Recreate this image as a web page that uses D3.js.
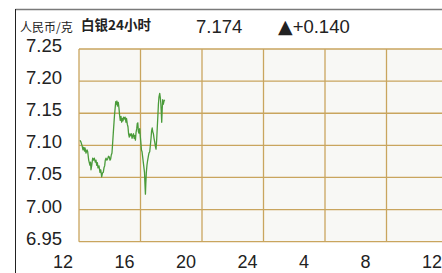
<!DOCTYPE html>
<html>
<head>
<meta charset="utf-8">
<script src="https://cdn.jsdelivr.net/npm/d3@7"></script>
<style>
	html, body { margin: 0; padding: 0; background: #fff; }
	svg { display: block; font-family: 'Liberation Sans', Arial, sans-serif; }
</style>
</head>
<body>
<div id="chart"></div>
<script>
'use strict'

// hours since 12:00 and price (RMB per gram)
const hours = [0.065, 0.13, 0.195, 0.26, 0.31, 0.36, 0.39, 0.455, 0.52, 0.566, 0.63, 0.67, 0.715, 0.75, 0.78, 0.83, 0.89, 0.94, 0.995, 1.06, 1.105, 1.15, 1.195, 1.235, 1.30, 1.365, 1.415, 1.475, 1.53, 1.58, 1.625, 1.67, 1.71, 1.755, 1.81, 1.865, 1.92, 1.97, 2.015, 2.06, 2.10, 2.145, 2.19, 2.23, 2.275, 2.31, 2.34, 2.39, 2.43, 2.47, 2.50, 2.555, 2.60, 2.64, 2.685, 2.73, 2.775, 2.82, 2.86, 2.905, 2.96, 3.00, 3.055, 3.09, 3.14, 3.185, 3.225, 3.27, 3.315, 3.36, 3.41, 3.45, 3.50, 3.545, 3.59, 3.63, 3.67, 3.71, 3.755, 3.79, 3.825, 3.865, 3.90, 3.95, 3.99, 4.02, 4.06, 4.10, 4.14, 4.18, 4.22, 4.26, 4.29, 4.32, 4.345, 4.38, 4.42, 4.46, 4.51, 4.55, 4.60, 4.645, 4.685, 4.72, 4.76, 4.80, 4.84, 4.88, 4.925, 4.965, 5.01, 5.05, 5.09, 5.13, 5.165, 5.20, 5.25, 5.29, 5.32, 5.35, 5.38, 5.41, 5.445, 5.48, 5.53, 5.57]
const prices = [7.108, 7.105, 7.100, 7.093, 7.097, 7.091, 7.096, 7.088, 7.093, 7.090, 7.077, 7.073, 7.069, 7.074, 7.062, 7.069, 7.080, 7.077, 7.080, 7.074, 7.077, 7.069, 7.073, 7.065, 7.068, 7.058, 7.062, 7.051, 7.057, 7.058, 7.065, 7.068, 7.077, 7.080, 7.077, 7.079, 7.083, 7.082, 7.077, 7.079, 7.085, 7.088, 7.104, 7.119, 7.135, 7.147, 7.155, 7.168, 7.164, 7.169, 7.161, 7.167, 7.158, 7.147, 7.139, 7.145, 7.136, 7.142, 7.138, 7.144, 7.141, 7.144, 7.136, 7.142, 7.133, 7.129, 7.118, 7.113, 7.118, 7.115, 7.118, 7.111, 7.115, 7.118, 7.111, 7.115, 7.108, 7.120, 7.126, 7.134, 7.135, 7.121, 7.119, 7.126, 7.113, 7.105, 7.093, 7.090, 7.082, 7.074, 7.066, 7.058, 7.040, 7.024, 7.040, 7.058, 7.069, 7.076, 7.083, 7.088, 7.090, 7.101, 7.111, 7.122, 7.127, 7.121, 7.118, 7.111, 7.105, 7.099, 7.094, 7.108, 7.127, 7.146, 7.164, 7.175, 7.181, 7.174, 7.166, 7.152, 7.136, 7.155, 7.171, 7.164, 7.169, 7.171]

const xTicks = [0, 4, 8, 12, 16, 20, 24]
const xTickLabels = ['12', '16', '20', '24', '4', '8', '12']
const yTicks = [6.95, 7.00, 7.05, 7.10, 7.15, 7.20, 7.25]

const unitLabel = '人民币/克'
const title = '白银24小时'
const lastPrice = '7.174'
const changeMark = '▲'
const change = '+0.140'

const width = 442
const height = 273
const plot = {left: 79, top: 49, right: 448, bottom: 241.7}

const svg = d3.select('#chart').append('svg')
	.attr('width', width)
	.attr('height', height)

const x = d3.scaleLinear()
	.domain([0, 24])
	.range([plot.left, plot.right])

const y = d3.scaleLinear()
	.domain([6.95, 7.25])
	.range([plot.bottom, plot.top])

// frame lines
svg.append('line')
	.attr('x1', 15.5).attr('x2', width)
	.attr('y1', 9.5).attr('y2', 9.5)
	.attr('stroke', '#7a7a7a')
	.attr('stroke-width', 1.5)

svg.append('line')
	.attr('x1', 15.5).attr('x2', 15.5)
	.attr('y1', 9).attr('y2', height)
	.attr('stroke', '#222')
	.attr('stroke-width', 1)

// plot background
svg.append('rect')
	.attr('x', plot.left)
	.attr('y', plot.top)
	.attr('width', plot.right - plot.left)
	.attr('height', plot.bottom - plot.top)
	.attr('fill', '#f8f8f5')

const grid = svg.append('g').attr('class', 'grid')

grid.selectAll('.vline')
	.data(xTicks)
	.enter()
	.append('line')
	.attr('class', 'vline')
	.attr('x1', (d) => x(d))
	.attr('x2', (d) => x(d))
	.attr('y1', plot.top)
	.attr('y2', plot.bottom)
	.attr('stroke', '#c9a55e')
	.attr('stroke-width', 1.3)

grid.selectAll('.hline')
	.data(yTicks)
	.enter()
	.append('line')
	.attr('class', 'hline')
	.attr('x1', plot.left)
	.attr('x2', plot.right)
	.attr('y1', (d) => y(d))
	.attr('y2', (d) => y(d))
	.attr('stroke', '#c9a55e')
	.attr('stroke-width', 1.3)

// y labels sit a little above their gridline
svg.append('g')
	.selectAll('text')
	.data(yTicks)
	.enter()
	.append('text')
	.attr('x', 62)
	.attr('y', (d) => y(d) + 3)
	.attr('text-anchor', 'end')
	.attr('font-size', 18.5)
	.attr('fill', '#222')
	.text((d) => d3.format('.2f')(d))

// x labels sit left of their gridline
svg.append('g')
	.selectAll('text')
	.data(xTicks)
	.enter()
	.append('text')
	.attr('x', (d) => x(d) - 26)
	.attr('y', 268)
	.attr('font-size', 18)
	.attr('fill', '#222')
	.text((d, i) => xTickLabels[i])

const points = hours.map((h, i) => ({h, v: prices[i]}))

const line = d3.line()
	.x((d) => x(d.h))
	.y((d) => y(d.v))

svg.append('path')
	.datum(points)
	.attr('d', line)
	.attr('fill', 'none')
	.attr('stroke', '#4a9b3a')
	.attr('stroke-width', 1.3)
	.attr('stroke-linejoin', 'round')

// header
svg.append('text')
	.attr('x', 20)
	.attr('y', 31.5)
	.attr('font-size', 12)
	.attr('font-family', "'Noto Sans CJK SC', sans-serif")
	.attr('fill', '#222')
	.text(unitLabel)

svg.append('text')
	.attr('x', 81)
	.attr('y', 30)
	.attr('font-size', 13.5)
	.attr('font-weight', 'bold')
	.attr('font-family', "'Noto Sans CJK SC', sans-serif")
	.attr('fill', '#222')
	.text(title)

svg.append('text')
	.attr('x', 196)
	.attr('y', 33)
	.attr('font-size', 18.5)
	.attr('fill', '#222')
	.text(lastPrice)

const changeText = svg.append('text')
	.attr('x', 278)
	.attr('y', 33)
	.attr('font-size', 18.5)
	.attr('fill', '#222')

changeText.append('tspan')
	.attr('font-family', "'DejaVu Sans', sans-serif")
	.attr('font-size', 19)
	.text(changeMark)

changeText.append('tspan')
	.text(change)
</script>
</body>
</html>
